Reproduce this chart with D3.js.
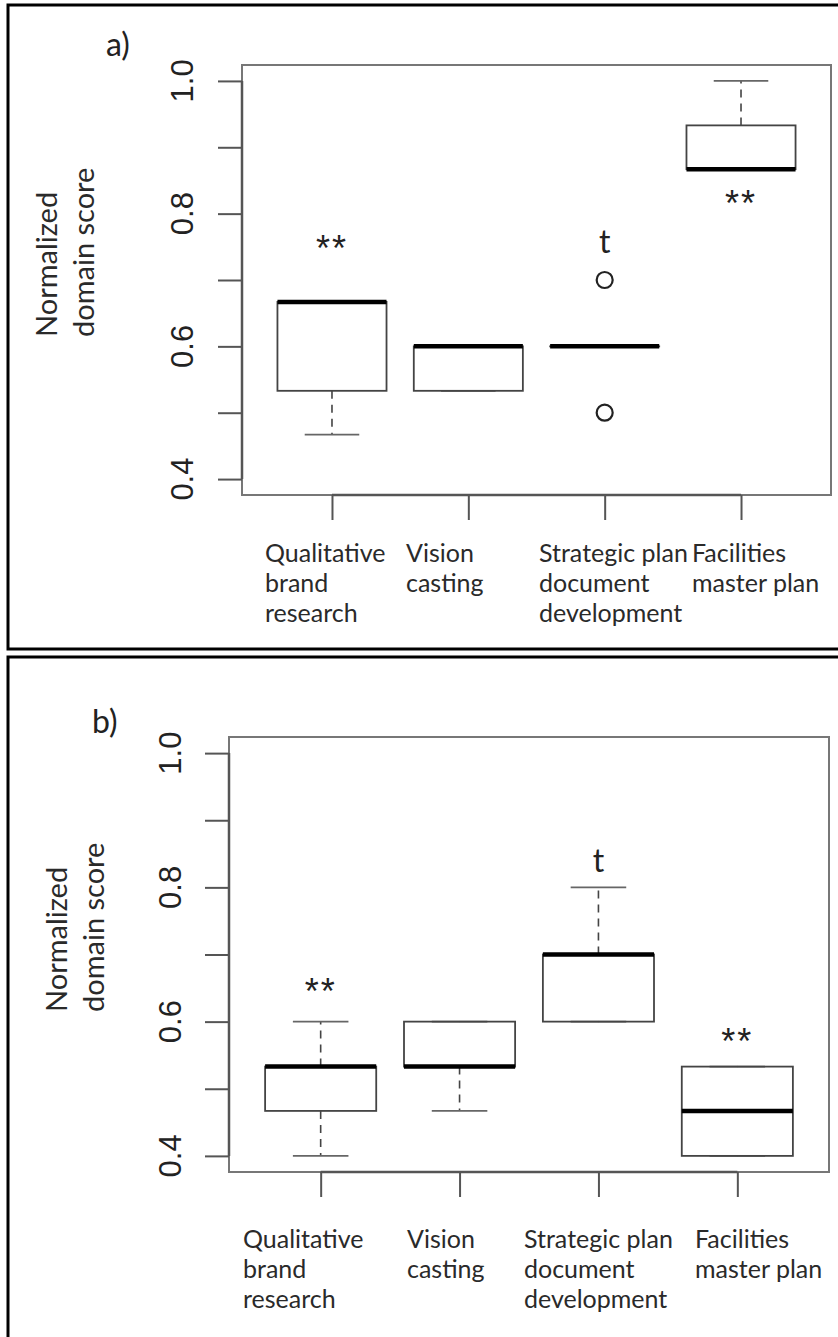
<!DOCTYPE html>
<html>
<head>
<meta charset="utf-8">
<script src="https://cdn.jsdelivr.net/npm/d3@7"></script>
<style>
  html, body { margin: 0; padding: 0; background: #fff; }
  svg { display: block; }
</style>
</head>
<body>
<div id="chart"></div>
<script>
// ---------------- data ----------------
const categories = ["Qualitative brand research", "Vision casting", "Strategic plan document development", "Facilities master plan"];
const categoryLabelLines = [["Qualitative", "brand", "research"], ["Vision", "casting"], ["Strategic plan", "document", "development"], ["Facilities", "master plan"]];
const yTickValues = [0.4, 0.5, 0.6, 0.7, 0.8, 0.9, 1.0];
const yTickLabels = ["0.4", "", "0.6", "", "0.8", "", "1.0"];
const yTitleLines = ["Normalized", "domain score"];
const panelTags = ["a)", "b)"];

// panel a) five-number summaries
const aLowerWhisker = [0.467, 0.533, 0.6, 0.867];
const aQ1           = [0.533, 0.533, 0.6, 0.867];
const aMedian       = [0.667, 0.6,   0.6, 0.867];
const aQ3           = [0.667, 0.6,   0.6, 0.933];
const aUpperWhisker = [0.667, 0.6,   0.6, 1.0];
const aOutliers     = [[], [], [0.7, 0.5], []];
const aMarks        = ["**", "", "t", "**"];
const aMarkValues   = [0.760, null, 0.757, 0.828];

// panel b) five-number summaries
const bLowerWhisker = [0.4,   0.467, 0.6, 0.4];
const bQ1           = [0.467, 0.533, 0.6, 0.4];
const bMedian       = [0.533, 0.533, 0.7, 0.467];
const bQ3           = [0.533, 0.6,   0.7, 0.533];
const bUpperWhisker = [0.6,   0.6,   0.8, 0.533];
const bOutliers     = [[], [], [], []];
const bMarks        = ["**", "", "t", "**"];
const bMarkValues   = [0.658, null, 0.839, 0.583];

// ---------------- layout ----------------
const W = 838, H = 1337;
const layouts = [
  { frameTop: 5, frameBottom: 649, left: 242, right: 831, top: 65, bottom: 495,
    tickLabelX: 193, titleX: [57, 94], titleStartY: 337, tagX: 106, tagY: 56,
    xLabelX: [265, 406, 539, 692], xLabelY0: 562 },
  { frameTop: 657, frameBottom: 1345, left: 229, right: 829, top: 737, bottom: 1172,
    tickLabelX: 181, titleX: [67, 104], titleStartY: 1012, tagX: 92, tagY: 733,
    xLabelX: [243, 407, 524, 695], xLabelY0: 1248 }
];
const panelsData = [
  { lo: aLowerWhisker, q1: aQ1, med: aMedian, q3: aQ3, hi: aUpperWhisker, out: aOutliers, marks: aMarks, markV: aMarkValues },
  { lo: bLowerWhisker, q1: bQ1, med: bMedian, q3: bQ3, hi: bUpperWhisker, out: bOutliers, marks: bMarks, markV: bMarkValues }
];

const svg = d3.select("#chart").append("svg")
  .attr("width", W).attr("height", H)
  .attr("viewBox", `0 0 ${W} ${H}`);

const sans = "'Liberation Sans', Arial, Helvetica, sans-serif";
const labelFont = "Lato, 'Open Sans', sans-serif";
const boxColor = "#444";

panelsData.forEach((pd, pi) => {
  const L = layouts[pi];
  const g = svg.append("g");

  // outer frame
  g.append("rect")
    .attr("x", 8).attr("y", L.frameTop)
    .attr("width", W + 20).attr("height", L.frameBottom - L.frameTop)
    .attr("fill", "none").attr("stroke", "#000").attr("stroke-width", 3);

  // scales (R style: xlim 0.5..4.5 and ylim 0.4..1.0, each padded 4%)
  const x = d3.scaleLinear().domain([0.34, 4.66]).range([L.left, L.right]);
  const y = d3.scaleLinear().domain([0.376, 1.024]).range([L.bottom, L.top]);
  const idx = categories.map((c, i) => i + 1);
  const boxHalf = (x(1.4) - x(1));       // boxwex 0.8
  const capHalf = boxHalf / 2;           // staplewex 0.5

  // plot frame
  g.append("rect")
    .attr("x", L.left).attr("y", L.top)
    .attr("width", L.right - L.left).attr("height", L.bottom - L.top)
    .attr("fill", "none").attr("stroke", "#777").attr("stroke-width", 2);

  // y axis
  const yAxis = d3.axisLeft(y).tickValues(yTickValues).tickSize(24).tickFormat("");
  const ya = g.append("g").attr("transform", `translate(${L.left},0)`).call(yAxis);
  ya.select(".domain").remove();
  ya.selectAll(".tick line").attr("stroke", "#555").attr("stroke-width", 2);
  g.append("line")
    .attr("x1", L.left).attr("x2", L.left)
    .attr("y1", y(yTickValues[0])).attr("y2", y(yTickValues[yTickValues.length - 1]))
    .attr("stroke", "#555").attr("stroke-width", 2.5);
  yTickValues.forEach((v, i) => {
    if (!yTickLabels[i]) return;
    g.append("text")
      .attr("transform", `translate(${L.tickLabelX},${y(v)}) rotate(-90)`)
      .attr("text-anchor", "middle")
      .attr("font-family", sans).attr("font-size", 31).attr("fill", "#222")
      .text(yTickLabels[i]);
  });

  // x axis
  const xAxis = d3.axisBottom(x).tickValues(idx).tickSize(25).tickFormat("");
  const xa = g.append("g").attr("transform", `translate(0,${L.bottom})`).call(xAxis);
  xa.select(".domain").remove();
  xa.selectAll(".tick line").attr("stroke", "#555").attr("stroke-width", 2);
  g.append("line")
    .attr("x1", x(1)).attr("x2", x(categories.length))
    .attr("y1", L.bottom).attr("y2", L.bottom)
    .attr("stroke", "#555").attr("stroke-width", 2.5);

  // category labels
  categoryLabelLines.forEach((lines, i) => {
    const t = g.append("text")
      .attr("font-family", labelFont).attr("font-size", 25).attr("fill", "#2a2a2a");
    lines.forEach((ln, j) => {
      t.append("tspan").attr("x", L.xLabelX[i]).attr("y", L.xLabelY0 + j * 30).text(ln);
    });
  });

  // y title
  yTitleLines.forEach((ln, j) => {
    g.append("text")
      .attr("transform", `translate(${L.titleX[j]},${L.titleStartY}) rotate(-90)`)
      .attr("text-anchor", "start")
      .attr("font-family", labelFont).attr("font-size", 29).attr("fill", "#2a2a2a")
      .text(ln);
  });

  // panel tag
  g.append("text")
    .attr("x", L.tagX).attr("y", L.tagY)
    .attr("font-family", labelFont).attr("font-size", 32).attr("fill", "#222")
    .text(panelTags[pi]);

  // boxes
  idx.forEach((c, i) => {
    const cx = x(c);
    // whiskers (dashed)
    g.append("line").attr("x1", cx).attr("x2", cx)
      .attr("y1", y(pd.q3[i])).attr("y2", y(pd.hi[i]))
      .attr("stroke", boxColor).attr("stroke-width", 1.6).attr("stroke-dasharray", "8,6");
    g.append("line").attr("x1", cx).attr("x2", cx)
      .attr("y1", y(pd.q1[i])).attr("y2", y(pd.lo[i]))
      .attr("stroke", boxColor).attr("stroke-width", 1.6).attr("stroke-dasharray", "8,6");
    // staples
    [pd.hi[i], pd.lo[i]].forEach(v => {
      g.append("line").attr("x1", cx - capHalf).attr("x2", cx + capHalf)
        .attr("y1", y(v)).attr("y2", y(v))
        .attr("stroke", "#666").attr("stroke-width", 1.8);
    });
    // box
    g.append("rect")
      .attr("x", cx - boxHalf).attr("y", y(pd.q3[i]))
      .attr("width", 2 * boxHalf).attr("height", Math.max(0.01, y(pd.q1[i]) - y(pd.q3[i])))
      .attr("fill", "none").attr("stroke", boxColor).attr("stroke-width", 1.8);
    // median
    g.append("line").attr("x1", cx - boxHalf).attr("x2", cx + boxHalf)
      .attr("y1", y(pd.med[i])).attr("y2", y(pd.med[i]))
      .attr("stroke", "#000").attr("stroke-width", 4.5);
    // outliers
    pd.out[i].forEach(v => {
      g.append("circle").attr("cx", cx).attr("cy", y(v)).attr("r", 8)
        .attr("fill", "none").attr("stroke", "#222").attr("stroke-width", 2.2);
    });
    // significance marks
    if (pd.marks[i]) {
      const isStar = pd.marks[i] === "**";
      g.append("text")
        .attr("x", cx)
        .attr("y", y(pd.markV[i]) + (isStar ? 21 : 11))
        .attr("text-anchor", "middle")
        .attr("font-family", isStar ? sans : labelFont)
        .attr("font-size", isStar ? 36 : 32)
        .attr("letter-spacing", isStar ? 2 : 0)
        .attr("fill", "#222")
        .text(pd.marks[i]);
    }
  });
});
</script>
</body>
</html>
